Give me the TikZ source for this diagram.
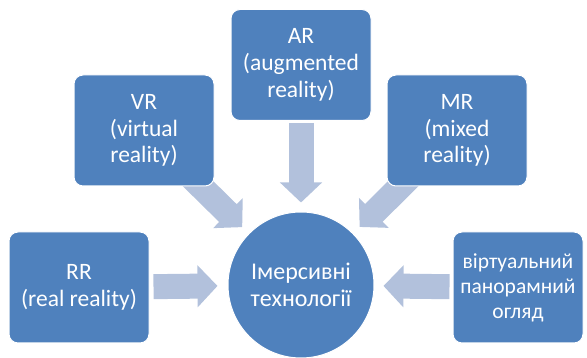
\documentclass[tikz,border=0pt]{standalone}
\usepackage{fontspec}
\setmainfont{Carlito}
\usepackage{tikz}
\usetikzlibrary{arrows.meta}
\usetikzlibrary{backgrounds}

\definecolor{boxblue}{RGB}{79,129,189}
\definecolor{arrowblue}{RGB}{178,193,220}

\begin{document}
\begin{tikzpicture}[x=1pt, y=1pt,
    tech/.style={draw=white, line width=1pt, fill=boxblue, text=white,
      rounded corners=9pt, align=center, minimum width=140pt, minimum height=111pt,
      inner sep=2pt, font=\fontsize{23.5}{26.7}\selectfont},
    hub/.style={draw=white, line width=1pt, fill=boxblue, text=white, circle,
      minimum size=146pt, align=center, inner sep=0pt, font=\fontsize{24}{27}\selectfont},
    fat/.style={draw=arrowblue, line width=25pt, -{Triangle[width=41pt, length=20pt]}}]

\useasboundingbox (0,0) rectangle (587,358);

% IMMERSIVE TECHNOLOGIES

% centre

\node[hub] (imm) at (301, 73) {Імерсивні\\технології};

% outer boxes

\node[tech] (ar) at (301, 293) {AR\\(augmented\\reality)};
\node[tech] (vr) at (144, 227.5) {VR\\(virtual\\reality)};
\node[tech] (mr) at (457, 227.5) {MR\\(mixed\\reality)};
\node[tech] (rr) at (79, 70.5) {RR\\(real reality)};
\node[tech, minimum width=130pt, font=\fontsize{21.5}{25}\selectfont] (pano) at (518, 70.5) {віртуальний\\панорамний\\огляд};


% box -> centre

\begin{pgfonlayer}{background}
\draw [fat, shorten <=2pt, shorten >=9pt] (ar) -- (imm);
\draw [fat, shorten <=57pt, shorten >=9pt] (vr.center) -- (imm);
\draw [fat, shorten <=57pt, shorten >=9pt] (mr.center) -- (imm);
\draw [fat, shorten <=4pt, shorten >=10pt] (rr) -- (imm);
\draw [fat, shorten <=3pt, shorten >=9pt] (pano) -- (imm);
\end{pgfonlayer}

\end{tikzpicture}
\end{document}
